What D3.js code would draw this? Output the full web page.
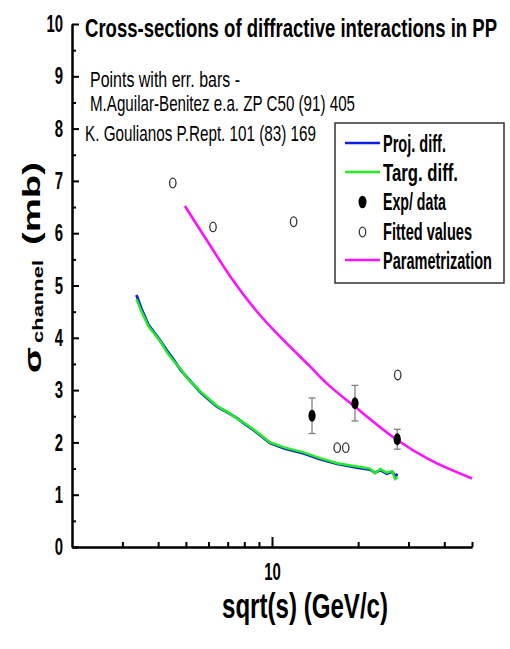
<!DOCTYPE html>
<html lang="en">
<head>
<meta charset="UTF-8">
<title>Cross-sections of diffractive interactions in PP</title>
<style>
  body { margin: 0; background: #fff; }
  svg { display: block; font-family: "Liberation Sans", Arial, sans-serif; }
  .axis .domain, .axis line { stroke: #000; stroke-width: 2; }
  .axis text { font-size: 24px; font-weight: bold; fill: #000; }
</style>
</head>
<body>
<script src="https://cdn.jsdelivr.net/npm/d3@7"></script>
<script>
// values: [sqrt(s), sigma]
const projDiff = [[3.36,4.82],[3.5,4.55],[3.7,4.25],[4.05,3.96],[4.3,3.75],[4.51,3.60],[4.8,3.38],
  [5.09,3.22],[5.6,2.97],[6.0,2.82],[6.4,2.69],[7.0,2.57],[7.52,2.47],[8.0,2.36],[8.6,2.24],
  [9.08,2.14],[9.84,1.99],[11.1,1.88],[12.9,1.79],[14.7,1.68],[16.9,1.59],[19.8,1.52],[22.0,1.48],
  [22.9,1.42],[23.9,1.47],[25.2,1.40],[26.3,1.44],[26.9,1.36],[27.5,1.39]];
const targDiff = [[3.36,4.74],[3.5,4.50],[3.7,4.22],[4.05,3.95],[4.3,3.72],[4.51,3.57],[4.8,3.40],
  [5.09,3.21],[5.6,2.98],[6.0,2.84],[6.4,2.70],[7.0,2.58],[7.52,2.46],[8.0,2.37],[8.6,2.25],
  [9.08,2.15],[9.84,2.00],[11.1,1.90],[12.9,1.81],[14.7,1.70],[16.9,1.60],[19.8,1.54],[22.0,1.50],
  [22.9,1.41],[23.9,1.49],[25.2,1.42],[26.3,1.45],[26.9,1.30],[27.5,1.34]];
const param = [[4.96,6.52],[5.91,5.87],[7.22,5.14],[8.96,4.47],[10.95,3.96],[13.6,3.45],
  [15.74,3.10],[19.5,2.68],[27.3,2.05],[35.8,1.66],[50,1.31]];
const fitted = [[4.5,6.96],[6.22,6.12],[11.9,6.22],[16.9,1.90],[18.1,1.90],[27.5,3.29]];
// [sqrt(s), sigma, error]
const expData = [[13.8,2.51,0.34],[19.5,2.75,0.34],[27.4,2.06,0.19]];

const yMajor = [0,1,2,3,4,5,6,7,8,9,10];
const yMinor = [0.5,1.5,2.5,3.5,4.5,5.5,6.5,7.5,8.5,9.5];
const xMinor = [3,4,5,6,7,8,9,20,30,40,50];
const xMajor = [10];

const notes = ["Points with err. bars -", "M.Aguilar-Benitez e.a. ZP C50 (91) 405", "K. Goulianos P.Rept. 101 (83) 169"];
const legendLabels = ["Proj. diff.", "Targ. diff.", "Exp/ data", "Fitted values", "Parametrization"];

const width = 510, height = 649,
  margin = {top: 24, right: 38, bottom: 102, left: 72},
  blue = "#0a1ee6", green = "#22ee22", magenta = "#ff10ff";

const x = d3.scaleLog().domain([2, 50]).range([margin.left, width - margin.right]);
const y = d3.scaleLinear().domain([0, 10]).range([height - margin.bottom, margin.top]);

const svg = d3.select("body").append("svg")
  .attr("width", width)
  .attr("height", height);

// axes
const xAxisY = y(0);
svg.append("g").attr("class", "axis")
  .attr("transform", `translate(0,${xAxisY})`)
  .call(d3.axisBottom(x).tickValues(xMinor).tickSize(-5).tickSizeOuter(0).tickFormat(""));
svg.append("g").attr("class", "axis")
  .attr("transform", `translate(0,${xAxisY})`)
  .call(d3.axisBottom(x).tickValues(xMajor).tickSize(-10).tickSizeOuter(0).tickPadding(16).tickFormat(d3.format("d")))
  .selectAll("text").attr("textLength", d => String(d).length * 8.3).attr("lengthAdjust", "spacingAndGlyphs");

svg.append("g").attr("class", "axis")
  .attr("transform", `translate(${margin.left},0)`)
  .call(d3.axisLeft(y).tickValues(yMinor).tickSize(-4).tickSizeOuter(0).tickFormat(""));
svg.append("g").attr("class", "axis")
  .attr("transform", `translate(${margin.left},0)`)
  .call(d3.axisLeft(y).tickValues(yMajor).tickSize(-7).tickSizeOuter(0).tickPadding(9).tickFormat(d3.format("d")))
  .selectAll("text").attr("textLength", d => String(d).length * 8.3).attr("lengthAdjust", "spacingAndGlyphs");

// curves
const line = d3.line().x(d => x(d[0])).y(d => y(d[1]));
svg.append("path").datum(param)
  .attr("fill", "none").attr("stroke", magenta).attr("stroke-width", 2.6)
  .attr("d", line.curve(d3.curveCatmullRom));
line.curve(d3.curveLinear);
svg.append("path").datum(projDiff)
  .attr("fill", "none").attr("stroke", blue).attr("stroke-width", 2.8).attr("d", line);
svg.append("path").datum(targDiff)
  .attr("fill", "none").attr("stroke", green).attr("stroke-width", 2.5).attr("d", line);

// error bars and points
const eb = svg.append("g").attr("stroke", "#808080").attr("stroke-width", 1.3);
expData.forEach(d => {
  const cx = x(d[0]), y1 = y(d[1] + d[2]), y2 = y(d[1] - d[2]);
  eb.append("line").attr("x1", cx).attr("x2", cx).attr("y1", y1).attr("y2", y2);
  eb.append("line").attr("x1", cx - 3.5).attr("x2", cx + 3.5).attr("y1", y1).attr("y2", y1);
  eb.append("line").attr("x1", cx - 3.5).attr("x2", cx + 3.5).attr("y1", y2).attr("y2", y2);
});
svg.selectAll(".exp").data(expData).enter().append("ellipse")
  .attr("cx", d => x(d[0])).attr("cy", d => y(d[1]))
  .attr("rx", 3.6).attr("ry", 6).attr("fill", "#000");
svg.selectAll(".fit").data(fitted).enter().append("ellipse")
  .attr("cx", d => x(d[0])).attr("cy", d => y(d[1]))
  .attr("rx", 3.2).attr("ry", 4.8).attr("fill", "none").attr("stroke", "#333").attr("stroke-width", 1.3);

// title and notes
svg.append("text").attr("x", 85).attr("y", 37)
  .attr("font-size", 26).attr("font-weight", "bold")
  .attr("textLength", 412).attr("lengthAdjust", "spacingAndGlyphs")
  .text("Cross-sections of diffractive interactions in PP");

const noteX = [90, 90, 85], noteY = [87, 111, 141], noteW = [150, 265, 231];
notes.forEach((t, i) => {
  svg.append("text").attr("x", noteX[i]).attr("y", noteY[i])
    .attr("font-size", 22)
    .attr("textLength", noteW[i]).attr("lengthAdjust", "spacingAndGlyphs")
    .text(t);
});

// legend
const lg = svg.append("g");
lg.append("rect").attr("x", 335).attr("y", 123).attr("width", 169).attr("height", 160)
  .attr("fill", "#fff").attr("stroke", "#333").attr("stroke-width", 1.5);
const legendY = [143, 172, 201, 231, 260], legendW = [63, 75, 63, 89, 109];
legendLabels.forEach((t, i) => {
  const cy = legendY[i];
  if (i === 0 || i === 1 || i === 4) {
    lg.append("line").attr("x1", 345).attr("x2", 380).attr("y1", cy).attr("y2", cy)
      .attr("stroke", [blue, green, null, null, magenta][i]).attr("stroke-width", 2.6);
  } else if (i === 2) {
    lg.append("ellipse").attr("cx", 362.5).attr("cy", cy + 1).attr("rx", 4).attr("ry", 6.3).attr("fill", "#000");
  } else {
    lg.append("ellipse").attr("cx", 362.5).attr("cy", cy + 1).attr("rx", 3.2).attr("ry", 4.8)
      .attr("fill", "none").attr("stroke", "#333").attr("stroke-width", 1.3);
  }
  lg.append("text").attr("x", 383).attr("y", cy + 8.5)
    .attr("font-size", 23).attr("font-weight", "bold")
    .attr("textLength", legendW[i]).attr("lengthAdjust", "spacingAndGlyphs")
    .text(t);
});

// x label
svg.append("text").attr("x", 222).attr("y", 618)
  .attr("font-size", 35).attr("font-weight", "bold")
  .attr("textLength", 166).attr("lengthAdjust", "spacingAndGlyphs")
  .text("sqrt(s) (GeV/c)");

// y label, squeezed horizontally like the rest of the picture
const yl = svg.append("g").attr("transform", "scale(0.63,1) rotate(-90)")
  .attr("font-weight", "bold");
yl.append("text").attr("x", -373).attr("y", 65).attr("font-size", 38).text("σ");
yl.append("text").attr("x", -343).attr("y", 69).attr("font-size", 22)
  .attr("textLength", 83).attr("lengthAdjust", "spacingAndGlyphs").text("channel");
yl.append("text").attr("x", -245).attr("y", 63.5).attr("font-size", 38)
  .attr("textLength", 83).attr("lengthAdjust", "spacingAndGlyphs").text("(mb)");
</script>
</body>
</html>
